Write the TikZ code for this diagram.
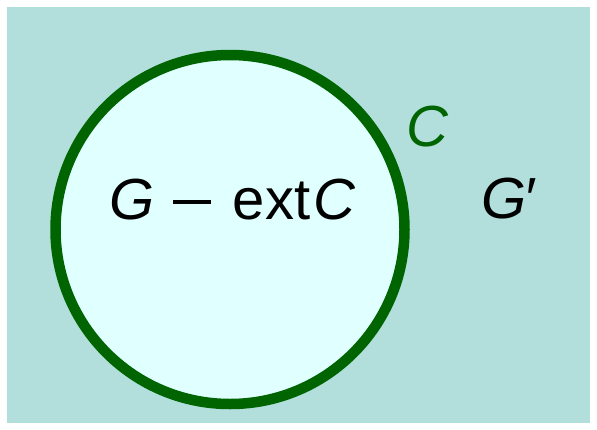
\documentclass[tikz,border=0pt]{standalone}
\usepackage{fontspec}
\setmainfont{Liberation Sans}
\definecolor{bgteal}{HTML}{B2DFDB}
\definecolor{incyan}{HTML}{E0FFFF}
\definecolor{cgreen}{HTML}{006400}
\begin{document}
\begin{tikzpicture}[x=1pt,y=-1pt,
  lbl/.style={font=\fontsize{58}{58}\selectfont, inner sep=0pt, anchor=base}]
\useasboundingbox (0,0) rectangle (597,429);
\fill[bgteal] (7,7) rectangle (590,423);
\node[circle, draw=cgreen, fill=incyan, line width=10.5pt, minimum size=349pt, inner sep=0pt] (circ) at (230,229.5) {};
\node[lbl] (inner) at (232.5,219) {\itshape G\upshape\hspace{18pt}\rule[15.5pt]{38pt}{3.2pt}\hspace{22pt}ext\hspace{3pt}\itshape C};
\node[lbl, text=cgreen] (clabel) at (427,146) {\itshape C};
\node[lbl] (gprime) at (508,218) {\itshape G\hspace{-0.05em}′};
\end{tikzpicture}
\end{document}
